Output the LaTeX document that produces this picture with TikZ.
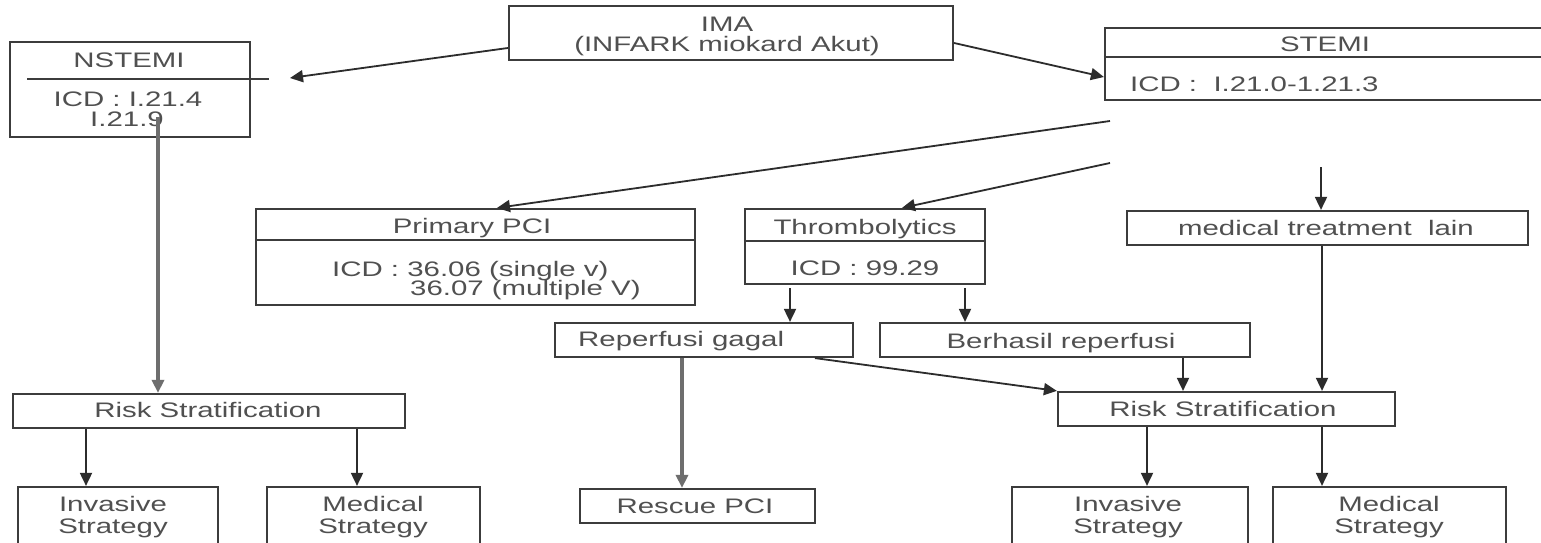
\documentclass[tikz,border=0pt]{standalone}
\usepackage{fontspec}
\setmainfont{Liberation Sans}[FakeStretch=1.4]
\usetikzlibrary{arrows.meta}
\definecolor{boxc}{HTML}{3C3C3C}
\definecolor{txtc}{HTML}{505050}
\definecolor{linec}{HTML}{2C2C2C}
\definecolor{gline}{HTML}{6E6E6E}
\begin{document}
\begin{tikzpicture}[x=1pt,y=-1pt,
  box/.style={draw=boxc,line width=2.2pt,rectangle,inner sep=0pt,fill=white},
  txt/.style={text=txtc,font=\fontsize{21}{22}\selectfont,inner sep=0pt,anchor=mid},
  ltxt/.style={txt,anchor=mid west},
  divline/.style={draw=boxc,line width=2pt},
  arr/.style={draw=linec,line width=1.8pt,-{Triangle[length=13pt,width=12pt]}},
  garr/.style={arr,draw=gline,line width=3.5pt}]
\useasboundingbox (0,0) rectangle (1541,543);
\fill[white] (0,0) rectangle (1541,543);
\clip (0,0) rectangle (1541,543);

% boxes
\node[box,minimum width=240pt,minimum height=95pt] (nstemi) at (130,89.5) {};
\node[box,minimum width=444pt,minimum height=54pt] (ima) at (731,33) {};
\node[box,minimum width=455pt,minimum height=72pt] (stemi) at (1332.5,64) {};
\node[box,minimum width=439pt,minimum height=96pt] (ppci) at (475.5,257) {};
\node[box,minimum width=240pt,minimum height=75pt] (thrombo) at (865,246.5) {};
\node[box,minimum width=401pt,minimum height=34pt] (medtx) at (1327.5,228) {};
\node[box,minimum width=298pt,minimum height=34pt] (repgagal) at (704,340) {};
\node[box,minimum width=370pt,minimum height=34pt] (berhasil) at (1065,340) {};
\node[box,minimum width=235pt,minimum height=34pt] (rescue) at (697.5,506) {};
\node[box,minimum width=392pt,minimum height=34pt] (rsL) at (209,411) {};
\node[box,minimum width=337pt,minimum height=34pt] (rsR) at (1226.5,409) {};
\node[box,minimum width=200pt,minimum height=73pt] (invL) at (118,523.5) {};
\node[box,minimum width=213pt,minimum height=73pt] (medL) at (373.5,523.5) {};
\node[box,minimum width=236pt,minimum height=73pt] (invR) at (1130,523.5) {};
\node[box,minimum width=233pt,minimum height=73pt] (medR) at (1389.5,523.5) {};

% dividers
\draw[divline] (27,79) -- (269,79);
\draw[divline] (stemi.west |- 0,57) -- (stemi.east |- 0,57);
\draw[divline] (ppci.west |- 0,240) -- (ppci.east |- 0,240);
\draw[divline] (thrombo.west |- 0,241) -- (thrombo.east |- 0,241);

% texts
\node[txt] (tn1) at (129,65) {NSTEMI};
\node[txt] (tn2) at (128,104) {ICD : I.21.4};
\node[txt] (tn3) at (127,124) {I.21.9};
\node[txt] (ti1) at (727,29) {IMA};
\node[txt] (ti2) at (727,49) {(INFARK miokard Akut)};
\node[txt] (ts1) at (1325,49) {STEMI};
\node[ltxt] (ts2) at (1130,89) {ICD :\ \ I.21.0-1.21.3};
\node[txt] (tp1) at (472,231) {Primary PCI};
\node[ltxt] (tp2) at (332,274) {ICD : 36.06 (single v)};
\node[ltxt] (tp3) at (410,293) {36.07 (multiple V)};
\node[txt] (tt1) at (865,232) {Thrombolytics};
\node[txt] (tt2) at (865,273) {ICD : 99.29};
\node[txt] (tm1) at (1326,233) {medical treatment\ \ lain};
\node[ltxt] (tr1) at (578,344) {Reperfusi gagal};
\node[txt] (tb1) at (1061,346) {Berhasil reperfusi};
\node[txt] (trc) at (695,511) {Rescue PCI};
\node[txt] (trl) at (208,415) {Risk Stratification};
\node[txt] (trr) at (1223,414) {Risk Stratification};
\node[txt] (til1) at (113,509) {Invasive};
\node[txt] (til2) at (113,531) {Strategy};
\node[txt] (tml1) at (373,509) {Medical};
\node[txt] (tml2) at (373,531) {Strategy};
\node[txt] (tir1) at (1128,509) {Invasive};
\node[txt] (tir2) at (1128,531) {Strategy};
\node[txt] (tmr1) at (1389,509) {Medical};
\node[txt] (tmr2) at (1389,531) {Strategy};

% free ends
\coordinate (nstemiIn) at (290,78);
\coordinate (s1) at (1110,121);
\coordinate (s2) at (1110,163);
\coordinate (s3) at (1321,167);
\coordinate (n1) at (158,117);

% connectors
\draw[arr] (ima.west |- 0,48) -- (nstemiIn);
\draw[arr] (ima.east |- 0,43) -- (stemi.west |- 0,77);
\draw[arr] (s1) -- (ppci.north -| 497,0);
\draw[arr] (s2) -- (thrombo.north -| 902,0);
\draw[arr] (s3) -- (medtx.north -| 1321,0);
\draw[garr] (n1) -- (rsL.north -| 158,0);
\draw[arr] (rsL.south -| 86,0) -- (invL.north -| 86,0);
\draw[arr] (rsL.south -| 357,0) -- (medL.north -| 357,0);
\draw[arr] (790,288) -- (repgagal.north -| 790,0);
\draw[arr] (965,288) -- (berhasil.north -| 965,0);
\draw[garr] (repgagal.south -| 682,0) -- (rescue.north -| 682,0);
\draw[arr] (repgagal.south -| 815,0) -- (rsR.north west);
\draw[arr] (berhasil.south -| 1183,0) -- (rsR.north -| 1183,0);
\draw[arr] (medtx.south -| 1322,0) -- (rsR.north -| 1322,0);
\draw[arr] (rsR.south -| 1147,0) -- (invR.north -| 1147,0);
\draw[arr] (rsR.south -| 1322,0) -- (medR.north -| 1322,0);
\end{tikzpicture}
\end{document}
